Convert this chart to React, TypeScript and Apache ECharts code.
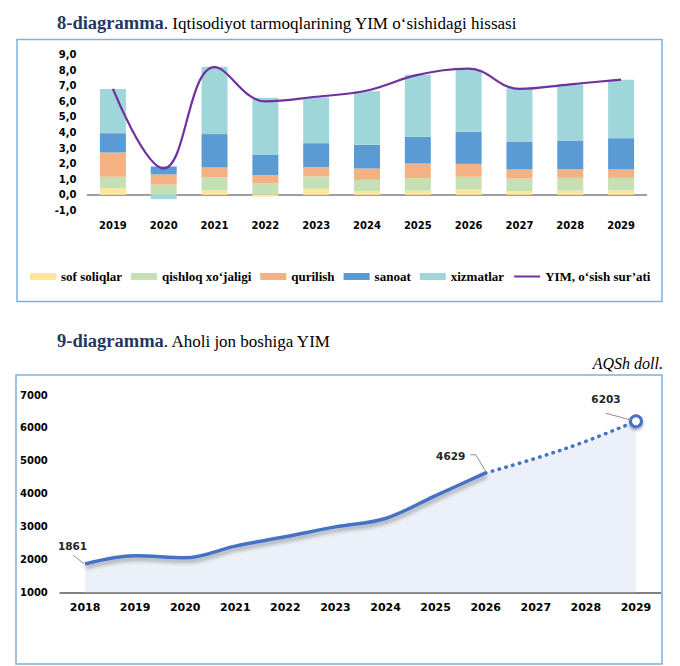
import React, { useEffect, useRef } from 'react';
import * as echarts from 'echarts';

// ---- 8-diagramma data ----
const years1 = ['2019', '2020', '2021', '2022', '2023', '2024', '2025', '2026', '2027', '2028', '2029'];
const sofSoliqlar = [0.43, 0.0, 0.28, -0.1, 0.39, 0.24, 0.26, 0.34, 0.24, 0.26, 0.28];
const qishloqXojaligi = [0.73, 0.66, 0.85, 0.75, 0.79, 0.72, 0.81, 0.82, 0.81, 0.83, 0.81];
const qurilish = [1.56, 0.65, 0.63, 0.53, 0.6, 0.73, 0.94, 0.83, 0.58, 0.56, 0.54];
const sanoat = [1.24, 0.51, 2.14, 1.31, 1.54, 1.52, 1.72, 2.06, 1.8, 1.84, 2.01];
const xizmatlar = [2.83, -0.28, 4.32, 3.64, 2.95, 3.45, 3.98, 4.0, 3.42, 3.6, 3.75];
const yimOsish = [6.8, 1.7, 8.2, 6.0, 6.3, 6.7, 7.7, 8.1, 6.8, 7.1, 7.4];

// ---- 9-diagramma data ----
const years2 = ['2018', '2019', '2020', '2021', '2022', '2023', '2024', '2025', '2026', '2027', '2028', '2029'];
const gdpPerCapita = [1861, 2110, 2050, 2405, 2688, 2990, 3245, 3940, 4629, 5076, 5592, 6203];
const lastActualYear = '2026';
const labelledYears = ['2018', '2026', '2029'];

const names1 = ['sof soliqlar', 'qishloq xo\u2018jaligi', 'qurilish', 'sanoat', 'xizmatlar', 'YIM, o\u2018sish sur\u2019ati'];

export default function App() {
  const ref = useRef<HTMLDivElement>(null);

  useEffect(() => {
    const chart = echarts.init(ref.current!, null, { renderer: 'svg' });
    const axisFont = { fontFamily: 'DejaVu Sans', fontWeight: 'bold', fontSize: 10, color: '#000' };
    const colors = ['#FFE699', '#C5E0B4', '#F4B183', '#5B9BD5', '#9FD6DA'];
    const barData = [sofSoliqlar, qishloqXojaligi, qurilish, sanoat, xizmatlar];
    const lastIdx = years2.indexOf(lastActualYear);
    const solid = gdpPerCapita.map((v, i) => (i <= lastIdx ? v : null));
    const forecast = gdpPerCapita.map((v, i) =>
      i < lastIdx ? null : i === gdpPerCapita.length - 1 ? { value: v, symbol: 'circle', symbolSize: 11 } : v
    );
    const blue = '#4472C4';
    const frame = '#7FB0DC';

    const baseGraphic: any[] = [
      { type: 'rect', shape: { x: 17, y: 39.5, width: 645, height: 262 }, style: { fill: 'none', stroke: frame, lineWidth: 1.5 }, z: 1 },
      { type: 'rect', shape: { x: 16, y: 375, width: 646, height: 289 }, style: { fill: 'none', stroke: frame, lineWidth: 1.5 }, z: 1 },
      {
        type: 'text', x: 57, y: 23, z: 10,
        style: {
          text: '{a|8-diagramma}{b|. Iqtisodiyot tarmoqlarining YIM o\u2018sishidagi hissasi}',
          verticalAlign: 'middle',
          rich: {
            a: { fontFamily: 'Liberation Serif', fontWeight: 'bold', fontSize: 18.5, fill: '#1F3864' },
            b: { fontFamily: 'Liberation Serif', fontSize: 17, fill: '#000' },
          },
        },
      },
      {
        type: 'text', x: 57, y: 341, z: 10,
        style: {
          text: '{a|9-diagramma}{b|. Aholi jon boshiga YIM}',
          verticalAlign: 'middle',
          rich: {
            a: { fontFamily: 'Liberation Serif', fontWeight: 'bold', fontSize: 18.5, fill: '#1F3864' },
            b: { fontFamily: 'Liberation Serif', fontSize: 17, fill: '#000' },
          },
        },
      },
      {
        type: 'text', x: 663, y: 363, z: 10,
        style: { text: 'AQSh doll.', fontFamily: 'Liberation Serif', fontStyle: 'italic', fontSize: 16, fill: '#000', align: 'right', verticalAlign: 'middle' },
      },
    ];

    const option: any = {
      animation: false,
      grid: [
        { left: 87.5, right: 33.5, top: 54.7, bottom: 455.6 },
        { left: 60, right: 19, top: 395, bottom: 73.7 },
      ],
      xAxis: [
        {
          gridIndex: 0, type: 'category', data: years1,
          axisLine: { lineStyle: { color: '#7F7F7F', width: 1.5 } },
          axisTick: { show: false }, axisLabel: { ...axisFont, margin: 10 },
        },
        {
          gridIndex: 1, type: 'category', data: years2,
          axisLine: { onZero: false, lineStyle: { color: '#595959', width: 1.5 } },
          axisTick: { show: false }, axisLabel: { ...axisFont, fontSize: 11, margin: 10 },
        },
      ],
      yAxis: [
        {
          gridIndex: 0, type: 'value', min: -1, max: 9, interval: 1,
          splitLine: { show: false }, axisLine: { show: false }, axisTick: { show: false },
          axisLabel: { ...axisFont, margin: 11, formatter: (v: number) => v.toFixed(1).replace('.', ',') },
        },
        {
          gridIndex: 1, type: 'value', min: 1000, max: 7000, interval: 1000,
          splitLine: { show: false }, axisLine: { show: false }, axisTick: { show: false },
          axisLabel: { ...axisFont, margin: 40, align: 'left', formatter: (v: number) => String(v) },
        },
      ],
      legend: {
        left: 25, top: 265, itemWidth: 26, itemHeight: 7, itemGap: 9,
        textStyle: { fontFamily: 'Liberation Serif', fontWeight: 'bold', fontSize: 13, color: '#000' },
        data: names1.map((n, i) => (i < 5 ? { name: n, icon: 'rect' } : { name: n, itemStyle: { opacity: 0 } })),
      },
      series: [
        ...barData.map((d, i) => ({
          name: names1[i], type: 'bar', stack: 'total', data: d, barWidth: 26,
          xAxisIndex: 0, yAxisIndex: 0, itemStyle: { color: colors[i] },
        })),
        {
          name: names1[5], type: 'line', data: yimOsish, smooth: 0.4, symbol: 'none',
          xAxisIndex: 0, yAxisIndex: 0, lineStyle: { color: '#7030A0', width: 2.2 }, itemStyle: { color: '#7030A0' }, z: 5,
        },
        {
          type: 'line', data: solid, smooth: 0.35, symbol: 'none', xAxisIndex: 1, yAxisIndex: 1,
          lineStyle: { color: blue, width: 3.5, shadowColor: 'rgba(0,0,0,0.35)', shadowBlur: 4, shadowOffsetX: 1, shadowOffsetY: 3 },
          areaStyle: { color: '#E4E9F5', origin: 'start' }, z: 3,
        },
        {
          type: 'line', data: forecast, smooth: 0.35, symbol: 'none', showSymbol: true, xAxisIndex: 1, yAxisIndex: 1,
          lineStyle: { color: blue, width: 3.5, type: [0.5, 6.5], cap: 'round' },
          itemStyle: { color: '#fff', borderColor: blue, borderWidth: 3, shadowColor: 'rgba(0,0,0,0.35)', shadowBlur: 3, shadowOffsetY: 2 },
          areaStyle: { color: '#E4E9F5', origin: 'start' }, z: 3,
        },
      ],
      graphic: baseGraphic,
    };
    chart.setOption(option);

    // annotations (labels with leader lines), positioned relative to the data points
    const annot: Record<string, { lab: [number, number]; line: [number, number][] }> = {
      '2018': { lab: [-12.5, -17.6], line: [[-11.7, -8.6], [-1, -0.3]] },
      '2026': { lab: [-35, -16.5], line: [[-15.3, -18.2], [-10, -18.2], [0.7, -0.5]] },
      '2029': { lab: [-30, -22.3], line: [[-30.3, -8], [-4.3, -1]] },
    };
    const extra: any[] = [];
    labelledYears.forEach((y) => {
      const i = years2.indexOf(y);
      const p = chart.convertToPixel({ xAxisIndex: 1, yAxisIndex: 1 } as any, [i, gdpPerCapita[i]]) as number[];
      const a = annot[y];
      extra.push({
        type: 'polyline', z: 12,
        shape: { points: a.line.map((q) => [p[0] + q[0], p[1] + q[1]]) },
        style: { stroke: '#8C8C8C', lineWidth: 1, fill: 'none' },
      });
      extra.push({
        type: 'text', z: 12, x: p[0] + a.lab[0], y: p[1] + a.lab[1],
        style: { text: String(gdpPerCapita[i]), fontFamily: 'DejaVu Sans', fontWeight: 'bold', fontSize: 10.5, fill: '#262626', align: 'center', verticalAlign: 'middle' },
      });
    });
    chart.setOption({ graphic: [...baseGraphic, ...extra] });

    return () => chart.dispose();
  }, []);

  return <div ref={ref} style={{ position: 'absolute', left: 0, top: 0, width: 680, height: 666, background: '#fff' }} />;
}
